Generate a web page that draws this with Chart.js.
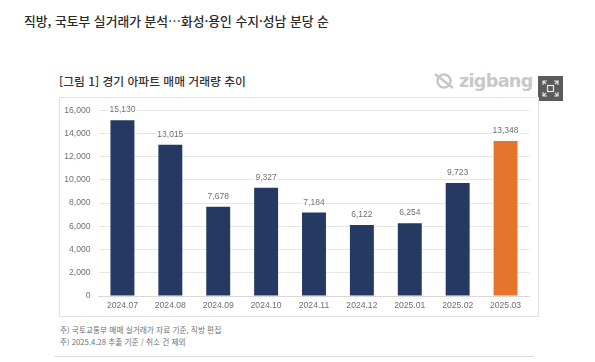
<!DOCTYPE html>
<html lang="ko">
<head>
<meta charset="utf-8">
<script src="https://cdn.jsdelivr.net/npm/chart.js@4/dist/chart.umd.min.js"></script>
<style>
html, body { margin: 0; padding: 0; background: #fff; }
body { width: 595px; height: 362px; overflow: hidden; position: relative; font-family: "Noto Sans CJK KR", sans-serif; }
.abs { position: absolute; white-space: nowrap; }
#headline { left: 24px; top: 11px; font-size: 12.8px; color: #2a2a2a; font-weight: 500; line-height: 20px; }
#figTitle { left: 59px; top: 72px; font-size: 11.8px; color: #333; font-weight: 500; line-height: 18px; }
#frame { left: 59px; top: 97px; width: 480px; height: 220px; border: 1px solid #e2e2e2; box-sizing: border-box; }
#chartWrap { left: 59px; top: 97px; width: 480px; height: 220px; }
#note1 { left: 60px; top: 324px; font-size: 7.7px; color: #707070; line-height: 12px; }
#note2 { left: 60px; top: 336px; font-size: 7.7px; color: #707070; line-height: 12px; }
#logoText { left: 459px; top: 68px; font: bold 17.6px "DejaVu Sans", sans-serif; letter-spacing: -0.7px; color: #c6c8ca; line-height: 26px; }
#logoMark { left: 433px; top: 71px; }
#expand { left: 538px; top: 76px; }
#rule { left: 54px; top: 356px; width: 480px; height: 1px; background: #ddd; }
</style>
</head>
<body>
<div class="abs" id="headline">직방, 국토부 실거래가 분석…화성·용인 수지·성남 분당 순</div>
<div class="abs" id="figTitle">[그림 1] 경기 아파트 매매 거래량 추이</div>
<svg class="abs" id="logoMark" width="24" height="20" viewBox="0 0 24 20">
  <circle cx="11" cy="10" r="6.5" fill="none" stroke="#c6c8ca" stroke-width="2.6"/>
  <path d="M2 3 L20 17" stroke="#c6c8ca" stroke-width="2.6" fill="none"/>
</svg>
<div class="abs" id="logoText">zigbang</div>
<svg class="abs" id="expand" width="25" height="25" viewBox="0 0 25 25">
  <rect width="25" height="25" fill="#5b5b5b"/>
  <rect x="9.5" y="9.5" width="6" height="6" fill="none" stroke="#e8e8e8" stroke-width="1.2"/>
  <path d="M5 9 V5 H9 M5 5 L8 8 M20 9 V5 H16 M20 5 L17 8 M5 16 V20 H9 M5 20 L8 17 M20 16 V20 H16 M20 20 L17 17" fill="none" stroke="#e8e8e8" stroke-width="1.1"/>
</svg>
<div class="abs" id="frame"></div>
<div class="abs" id="chartWrap"><canvas id="chart" width="480" height="220"></canvas></div>
<div class="abs" id="note1">주) 국토교통부 매매 실거래가 자료 기준, 직방 편집</div>
<div class="abs" id="note2">주) 2025.4.28 추출 기준 / 취소 건 제외</div>
<div class="abs" id="rule"></div>
<script>
const months = ['2024.07', '2024.08', '2024.09', '2024.10', '2024.11', '2024.12', '2025.01', '2025.02', '2025.03'];
const deals = [15130, 13015, 7678, 9327, 7184, 6122, 6254, 9723, 13348];
const barColors = ['#243a63', '#243a63', '#243a63', '#243a63', '#243a63', '#243a63', '#243a63', '#243a63', '#e5742d'];

const valueLabels = {
    id: 'valueLabels',
    afterDatasetsDraw(chart) {
        const ctx = chart.ctx;
        const meta = chart.getDatasetMeta(0);
        ctx.save();
        ctx.font = '8.5px "Liberation Sans", sans-serif';
        ctx.textAlign = 'center';
        ctx.textBaseline = 'bottom';
        meta.data.forEach((bar, i) => {
            const text = deals[i].toLocaleString('en-US');
            const w = ctx.measureText(text).width;
            ctx.fillStyle = '#fff';
            ctx.fillRect(bar.x - w / 2 - 1, bar.y - 15, w + 2, 9);
            ctx.fillStyle = '#707070';
            ctx.fillText(text, bar.x, bar.y - 6);
        });
        ctx.restore();
    }
};

new Chart(document.getElementById('chart').getContext('2d'), {
    type: 'bar',
    data: {
        labels: months,
        datasets: [{
            data: deals,
            backgroundColor: barColors,
            barPercentage: 0.5,
            categoryPercentage: 1
        }]
    },
    options: {
        responsive: false,
        animation: false,
        layout: { padding: { top: 12.5, right: 9.5, bottom: 0, left: 0 } },
        plugins: { legend: { display: false }, tooltip: { enabled: false } },
        scales: {
            x: {
                grid: { display: false, drawTicks: false },
                border: { color: '#d9d9d9' },
                ticks: { color: '#707070', font: { size: 8.6, family: '"Liberation Sans", sans-serif' }, padding: 4, maxRotation: 0 },
                afterFit(scale) { scale.height = 21; }
            },
            y: {
                min: 0,
                max: 16000,
                ticks: {
                    stepSize: 2000,
                    color: '#707070',
                    font: { size: 8.6, family: '"Liberation Sans", sans-serif' },
                    padding: 8,
                    callback: v => v.toLocaleString('en-US')
                },
                grid: { color: '#e6e6e6', drawTicks: false },
                border: { display: false },
                afterFit(scale) { scale.width = 39.5; }
            }
        }
    },
    plugins: [valueLabels]
});
</script>
</body>
</html>
